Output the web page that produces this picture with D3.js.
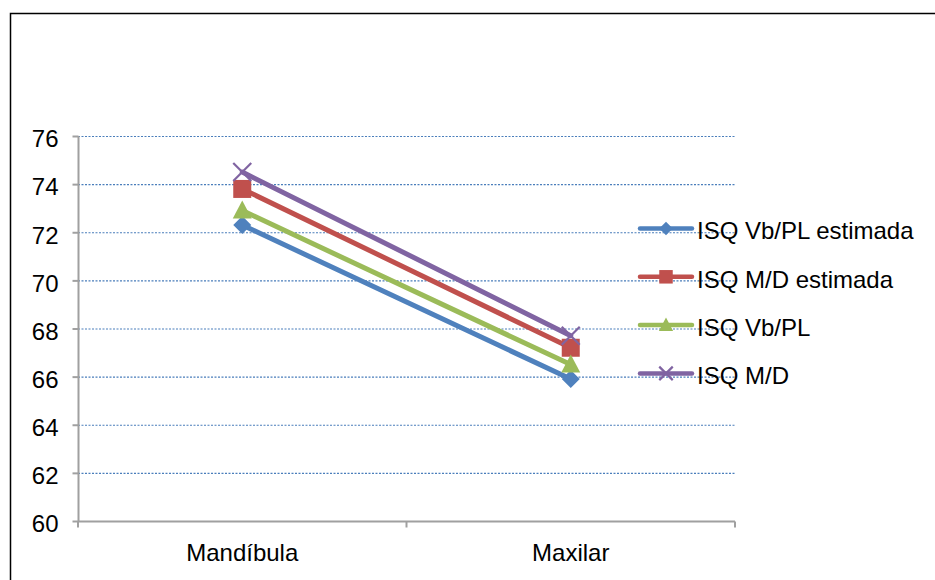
<!DOCTYPE html>
<html><head><meta charset="utf-8">
<script src="https://cdn.jsdelivr.net/npm/d3@7"></script>
<style>body{margin:0;background:#fff}svg{display:block;font-family:"Liberation Sans",Arial,sans-serif}</style>
</head><body><svg id="c" width="935" height="580"></svg>
<script>
const categories = ["Mandíbula", "Maxilar"];
const seriesNames = ["ISQ Vb/PL estimada", "ISQ M/D estimada", "ISQ Vb/PL", "ISQ M/D"];
const vbplEstimada = [72.3, 65.9];
const mdEstimada = [73.8, 67.2];
const vbpl = [72.9, 66.5];
const md = [74.5, 67.7];
const yTicks = [60, 62, 64, 66, 68, 70, 72, 74, 76];
const colors = ["#4F81BD", "#C0504D", "#9BBB59", "#8064A2"];
const markers = ["diamond", "square", "triangle", "x"];

const seriesValues = [vbplEstimada, mdEstimada, vbpl, md];
const FS = 24;
const svg = d3.select("#c");
svg.append("rect").attr("x", 10.5).attr("y", 13.5).attr("width", 940).attr("height", 600)
  .attr("fill", "none").attr("stroke", "#000").attr("stroke-width", 1.5);

const L = 78, R = 735, T = 136, B = 521;
const x = d3.scaleBand().domain(categories).range([L, R]);
const y = d3.scaleLinear().domain([60, 76]).range([B, T]);

// gridlines
svg.append("g").selectAll("line").data(yTicks.filter(t => t > 60)).join("line")
  .attr("x1", L).attr("x2", R).attr("y1", d => y(d) + 0.5).attr("y2", d => y(d) + 0.5)
  .attr("stroke", "#4A7EBB").attr("stroke-width", 1.2).attr("stroke-dasharray", "2,1.5");

// y axis
const yAxis = svg.append("g").attr("transform", `translate(${L + 0.5},0)`)
  .call(d3.axisLeft(y).tickValues(yTicks).tickSize(6).tickPadding(14).tickFormat(d3.format("d")));
yAxis.select(".domain").attr("stroke", "#A0A0A0").attr("stroke-width", 2).attr("d", `M0,${T}V${B}`);
yAxis.selectAll(".tick line").attr("stroke", "#A0A0A0").attr("stroke-width", 2);
yAxis.selectAll(".tick text").attr("font-size", FS).attr("fill", "#000").attr("dy", "0.45em")
  .attr("font-family", "Liberation Sans, Arial, sans-serif");

// x axis
const xAxis = svg.append("g").attr("transform", `translate(0,${B + 0.5})`)
  .call(d3.axisBottom(x).tickSize(0).tickPadding(0));
xAxis.select(".domain").attr("stroke", "#A0A0A0").attr("stroke-width", 2).attr("d", `M${L},0H${R}`);
xAxis.selectAll(".tick text").attr("font-size", FS).attr("fill", "#000").attr("y", 39.5).attr("dy", 0)
  .attr("font-family", "Liberation Sans, Arial, sans-serif");
const bounds = [L, ...categories.map(c => x(c) + x.bandwidth())];
xAxis.append("g").selectAll("line").data(bounds).join("line")
  .attr("x1", d => d).attr("x2", d => d).attr("y1", 0).attr("y2", 6)
  .attr("stroke", "#A0A0A0").attr("stroke-width", 2);

function drawMarker(g, type, color, cx, cy, s) {
  if (type === "diamond") {
    g.append("path").attr("d", `M${cx},${cy-9*s}L${cx+9*s},${cy}L${cx},${cy+9*s}L${cx-9*s},${cy}Z`).attr("fill", color);
  } else if (type === "square") {
    g.append("rect").attr("x", cx-9*s).attr("y", cy-9*s).attr("width", 18*s).attr("height", 18*s).attr("fill", color);
  } else if (type === "triangle") {
    g.append("path").attr("d", `M${cx},${cy-10*s}L${cx+9.5*s},${cy+8*s}L${cx-9.5*s},${cy+8*s}Z`).attr("fill", color);
  } else {
    g.append("path").attr("d", `M${cx-9*s},${cy-9*s}L${cx+9*s},${cy+9*s}M${cx-9*s},${cy+9*s}L${cx+9*s},${cy-9*s}`)
      .attr("stroke", color).attr("stroke-width", 2.2).attr("fill", "none");
  }
}

const line = d3.line().x((d, i) => x(categories[i]) + x.bandwidth() / 2).y(d => y(d));
seriesValues.forEach((vals, si) => {
  const g = svg.append("g");
  g.append("path").attr("d", line(vals)).attr("fill", "none").attr("stroke", colors[si])
    .attr("stroke-width", 5).attr("stroke-linecap", "round");
  vals.forEach((v, i) => drawMarker(g, markers[si], colors[si], x(categories[i]) + x.bandwidth() / 2, y(v), 1));
});

// legend
const leg = svg.append("g");
seriesNames.forEach((name, i) => {
  const ly = 228.5 + i * 48.3;
  const g = leg.append("g");
  g.append("line").attr("x1", 640).attr("x2", 692).attr("y1", ly).attr("y2", ly)
    .attr("stroke", colors[i]).attr("stroke-width", 4.5).attr("stroke-linecap", "round");
  drawMarker(g, markers[i], colors[i], 666, ly, 0.75);
  g.append("text").attr("x", 697).attr("y", ly + 10.8).attr("font-size", FS).text(name);
});
</script></body></html>
